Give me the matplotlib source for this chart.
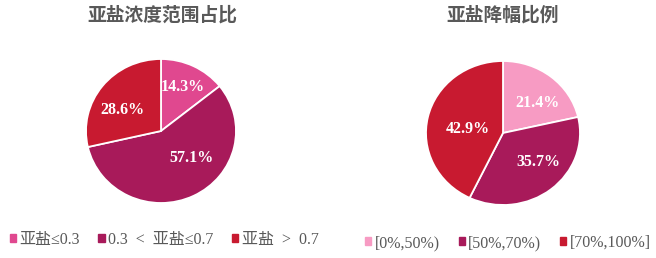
import matplotlib
matplotlib.use("Agg")
import matplotlib.pyplot as plt
from matplotlib.patches import Patch

plt.rcParams['font.family'] = ['Liberation Serif', 'Noto Sans CJK SC', 'DejaVu Sans']

# data
titles = ['亚盐浓度范围占比', '亚盐降幅比例']
labels_1 = ['亚盐≤0.3', '0.3  <  亚盐≤0.7', '亚盐  >  0.7']
counts_1 = [1, 4, 2]
labels_2 = ['[0%,50%)', '[50%,70%)', '[70%,100%]']
counts_2 = [3, 5, 6]

colors_1 = ['#E0488F', '#A81A5A', '#C81A30']
colors_2 = ['#F79BC3', '#A81A5A', '#C81A30']

# label spots inside each pie (data units)
label_pos_1 = [(0.29, 0.61), (0.40, -0.37), (-0.52, 0.29)]
label_pos_2 = [(0.45, 0.42), (0.46, -0.40), (-0.46, 0.06)]

W, H = 656, 258
fig = plt.figure(figsize=(W / 100, H / 100), dpi=100)


def pie_axes(cx, cy, rx, ry):
    # cx, cy in pixels from top-left; axes limits are +-1.3
    w, h = 2.6 * rx, 2.6 * ry
    return fig.add_axes([(cx - w / 2) / W, (H - cy - h / 2) / H, w / W, h / H])


def draw(ax, counts, colors, label_pos):
    wedges, _, autotexts = ax.pie(
        counts, colors=colors, startangle=90, counterclock=False,
        autopct='%1.1f%%', pctdistance=0.6,
        wedgeprops=dict(edgecolor='white', linewidth=1.3),
        textprops=dict(color='white', fontsize=11.5, fontweight='bold',
                       family='Liberation Serif'))
    for t, p in zip(autotexts, label_pos):
        t.set_position(p)
    ax.set_aspect('auto')
    ax.set_xlim(-1.3, 1.3)
    ax.set_ylim(-1.3, 1.3)
    ax.axis('off')
    return wedges


ax1 = pie_axes(161, 131, 75, 72)
draw(ax1, counts_1, colors_1, label_pos_1)
ax2 = pie_axes(503, 133, 77, 72)
draw(ax2, counts_2, colors_2, label_pos_2)

title_font = dict(fontsize=13.5, fontweight='bold', color='#595959',
                  family=['Noto Sans CJK SC', 'DejaVu Sans'],
                  ha='center', va='center')
fig.text(162 / W, 1 - 15 / H, titles[0], **title_font)
fig.text(503 / W, 1 - 15 / H, titles[1], **title_font)

legend_kw = dict(ncol=3, frameon=False, fontsize=11.5, labelcolor='#595959',
                 handlelength=0.38, handleheight=0.38, handletextpad=0.2,
                 columnspacing=1.2, borderpad=0, borderaxespad=0, loc='center')
h1 = [Patch(color=c) for c in colors_1]
fig.legend(h1, labels_1, bbox_to_anchor=(164 / W, 18 / H), **legend_kw)
h2 = [Patch(color=c) for c in colors_2]
fig.legend(h2, labels_2, bbox_to_anchor=(508 / W, 15 / H), **legend_kw)

plt.savefig('out.png', dpi=100)
